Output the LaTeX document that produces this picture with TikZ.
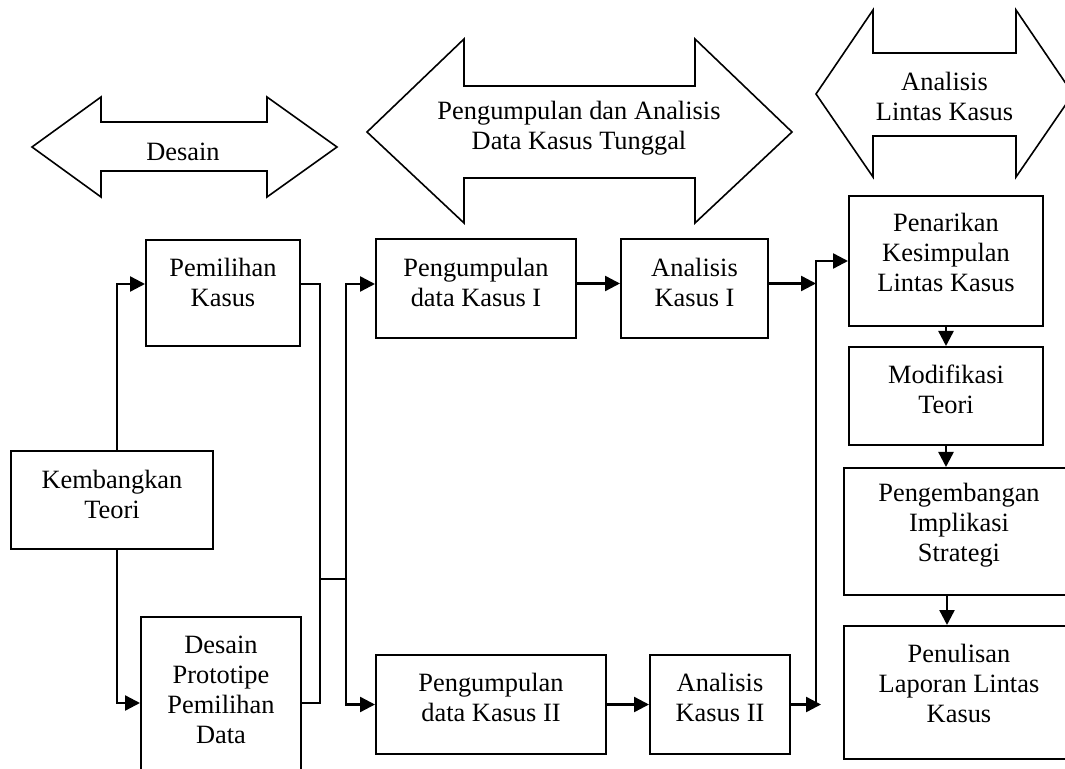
\documentclass[tikz,border=0pt]{standalone}
\usepackage{fontspec}
\setmainfont{Liberation Serif}
\usetikzlibrary{arrows.meta}
\def\lowpad#1{\rule[-#1]{0pt}{0pt}}

\begin{document}
\begin{tikzpicture}[x=0.5pt, y=-0.5pt, >={Triangle[length=7.5pt,width=7.5pt]}]
    \tikzstyle{every node} = [font=\fontsize{13.2}{15}\selectfont]
    \tikzstyle{box} = [draw, line width=1pt, rectangle, align=center, inner sep=0pt]
    \tikzstyle{banner} = [draw, line width=0.8pt, line join=miter]
    \tikzstyle{flow} = [line width=1.2pt]

    \useasboundingbox (0,0) rectangle (1065,769);

    % stage banners
    \draw[banner] (32,147) -- (101,97) -- (101,122) -- (267,122) -- (267,97) -- (337,147) -- (267,197) -- (267,171) -- (101,171) -- (101,197) -- cycle;
    \node (desain) at (183,152) {Desain};
    \draw[banner] (367,132) -- (464,39) -- (464,86) -- (695,86) -- (695,39) -- (792,132) -- (695,223) -- (695,178) -- (464,178) -- (464,223) -- cycle;
    \node (tunggal) [align=center] at (579,128) {Pengumpulan dan Analisis\\Data Kasus Tunggal};
    \draw[banner] (816,94) -- (873,10) -- (873,53) -- (1016,53) -- (1016,10) -- (1073,94) -- (1016,177) -- (1016,136) -- (873,136) -- (873,177) -- cycle;
    \node (lintas) [align=center] at (944.5,96.5) {Analisis\\Lintas Kasus};

    % design
    \node (kembangkan) [box, minimum width=101pt, minimum height=49pt] at (112,500) {Kembangkan\\Teori\lowpad{6pt}};
    \node (pemilihan) [box, minimum width=77pt, minimum height=53pt] at (223,293) {Pemilihan\\Kasus\lowpad{10.5pt}};
    \node (prototipe) [box, minimum width=80pt, minimum height=82pt] at (221,699) {Desain\\Prototipe\\Pemilihan\\Data\lowpad{9pt}};

    % single cases
    \node (kumpul1) [box, minimum width=100pt, minimum height=49.5pt] at (476,288.5) {Pengumpulan\\data Kasus I\lowpad{6.5pt}};
    \node (analisis1) [box, right of=kumpul1, node distance=109.25pt, minimum width=73.5pt, minimum height=49.5pt] {Analisis\\Kasus I\lowpad{6.5pt}};
    \node (kumpul2) [box, minimum width=115pt, minimum height=49.5pt] at (491,704.5) {Pengumpulan\\data Kasus II\lowpad{7pt}};
    \node (analisis2) [box, right of=kumpul2, node distance=114.5pt, minimum width=70pt, minimum height=49.5pt] {Analisis\\Kasus II\lowpad{7pt}};

    % cross cases
    \node (penarikan) [box, minimum width=97pt, minimum height=65pt] at (946,261) {Penarikan\\Kesimpulan\\Lintas Kasus\lowpad{9pt}};
    \node (modifikasi) [box, below of=penarikan, node distance=67.5pt, minimum width=97pt, minimum height=49pt] {Modifikasi\\Teori\lowpad{7pt}};
    \node (pengembangan) [box, below of=modifikasi, node distance=67.75pt, xshift=6.5pt, minimum width=115pt, minimum height=63.5pt] {Pengembangan\\Implikasi\\Strategi\lowpad{9.5pt}};
    \node (penulisan) [box, below of=pengembangan, node distance=80.5pt, minimum width=115pt, minimum height=66.5pt] {Penulisan\\Laporan Lintas\\Kasus\lowpad{9.5pt}};

    \coordinate (join) at (320,579);
    \coordinate (bus) at (346,579);
    \coordinate (merge) at (816,703);
    \coordinate (hub1) at (816,283.5);
    \coordinate (hub2) at (821,704.5);

    \draw[flow, ->] ([xshift=2.5pt]kembangkan.north) |- ([yshift=4.5pt]pemilihan.west);
    \draw[flow, ->] ([xshift=2.5pt]kembangkan.south) |- ([yshift=-2pt]prototipe.west);
    \draw[flow] ([yshift=4.5pt]pemilihan.east) -| (join);
    \draw[flow] ([yshift=-2pt]prototipe.east) -| (join);
    \draw[flow] (join) -- (bus);
    \draw[flow, ->] (bus) |- ([yshift=2.25pt]kumpul1.west);
    \draw[flow, ->] (bus) |- (kumpul2.west);
    \draw[flow, ->] ([yshift=2.5pt]kumpul1.east) -- ([yshift=2.5pt]analisis1.west);
    \draw[flow, ->] ([yshift=2.5pt]analisis1.east) -- (hub1);
    \draw[flow, ->] (kumpul2.east) -- (analisis2.west);
    \draw[flow, ->] (analisis2.east) -- (hub2);
    \draw[flow, ->] (merge) |- (penarikan.west);
    \draw[flow, ->] (penarikan) -- (modifikasi);
    \draw[flow, ->] (modifikasi.south) -- (modifikasi.south |- pengembangan.north);
    \draw[flow, ->] ([xshift=-6pt]pengembangan.south) -- ([xshift=-6pt]penulisan.north);
\end{tikzpicture}
\end{document}
